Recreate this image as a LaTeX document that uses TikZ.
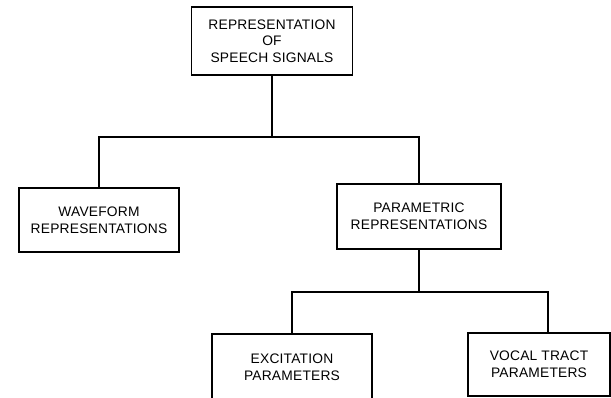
\documentclass[tikz,border=0pt]{standalone}
\usepackage{fontspec}
\setmainfont[LetterSpace=1.5]{Liberation Sans}
\begin{document}
\begin{tikzpicture}[x=1pt,y=-1pt,line width=1.3pt,
  blk/.style={draw,align=center,inner sep=0pt,font=\fontsize{13.8}{16.7}\selectfont}]
\useasboundingbox (0,0) rectangle (611,397);
\node [blk,name=root,minimum width=161pt,minimum height=68pt] at (272,41){REPRESENTATION\\OF\\SPEECH SIGNALS};
\node [blk,name=wave,minimum width=160pt,minimum height=64pt] at (99,220){WAVEFORM\\REPRESENTATIONS};
\node [blk,name=param,minimum width=164pt,minimum height=65pt] at (419,216.5){PARAMETRIC\\REPRESENTATIONS};
\node [blk,name=excit,minimum width=160pt,minimum height=66pt] at (292,367){EXCITATION\\PARAMETERS};
\node [blk,name=vocal,minimum width=142pt,minimum height=63pt] at (539,364.5){VOCAL TRACT\\PARAMETERS};
% branch points
\coordinate (j1) at (272,137);
\coordinate (j2) at (419,292);
\draw (root.south)--(j1);
\draw (wave.north) |- (j1) -| (param.north);
\draw (param.south)--(j2);
\draw (excit.north) |- (j2) -| ([xshift=9pt]vocal.north);
\end{tikzpicture}
\end{document}
